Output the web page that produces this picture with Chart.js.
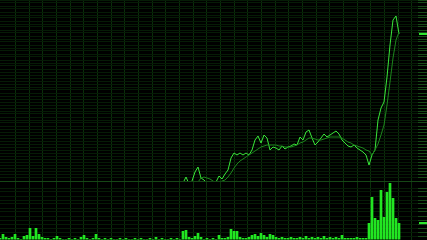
<!DOCTYPE html>
<html>
<head>
<meta charset="utf-8">
<script src="https://cdn.jsdelivr.net/npm/chart.js@4.4.0/dist/chart.umd.min.js"></script>
<style>
html,body{margin:0;padding:0;background:#000;overflow:hidden;}
#wrap{position:relative;width:427px;height:240px;background:#000;}
#main{position:absolute;left:0;top:0;}
#vol{position:absolute;left:0;top:181px;}
</style>
</head>
<body>
<div id="wrap">
<canvas id="main" width="427" height="181"></canvas>
<canvas id="vol" width="427" height="59"></canvas>
</div>
<script>
// ---- data ----
const categories = Array.from({length: 140}, (_, i) => i);

const priceStart = 61;
const priceValues = [-3,3,-4,-1,8,13,2,0,-3,-4,-4,-2,4,1,6,10,22,27,25,27,25,27,25,30,40,44,37,45,42,30,33,32,30,34,31,33,34,36,35,43,40,48,50,42,35,38,42,46,43,45,47,49,46,40,37,34,33,35,32,30,28,25,15,25,30,60,72,78,103,135,160,164,146];

const maStart = 66;
const maValues = [-2,2,3,2,1,-1,-3,-3,-1,0,3,7,12,16,19,21,23,25,27,29,31,33,34,35,35,35,35,34,34,33,33,33,34,35,37,38,40,42,42,41,40,40,41,42,43,43,43,43,42,40,38,37,35,34,33,32,30,29,25,30,36,45,55,75,98,122,140,148];

const volumeValues = [2,6,3,2,3,6,2,1,4,5,12,4,12,6,3,2,2,1,2,4,2,1,1,2,1,2,1,3,5,2,1,2,6,2,1,2,1,2,1,1,2,1,2,1,1,2,1,2,1,1,2,1,3,1,2,1,1,2,1,2,1,9,10,3,2,4,7,3,1,2,1,2,1,5,2,2,3,11,9,9,3,2,2,3,5,6,4,7,5,3,6,5,3,2,3,2,2,3,2,2,3,2,4,2,3,2,3,2,4,2,3,2,3,2,5,2,2,2,2,3,2,2,2,17,43,22,20,50,23,48,57,42,22,17];

const priceTicks = {min: -1, max: 180, step: 3};
const volumeTicks = {min: 0, max: 59, step: 4};

// ---- helpers ----
function spread(start, values) {
  return categories.map((_, i) => (i >= start && i - start < values.length) ? values[i - start] : null);
}
const priceData = spread(priceStart, priceValues);
const maData = spread(maStart, maValues);
const volData = spread(0, volumeValues);

const X_MAX = 418 / 3;
function vGridTicks(scale) {
  const t = [];
  for (let k = 0; k < 30; k++) {
    const v = (15.66 + 13.66 * k) / 3;
    if (v < X_MAX) t.push({value: v});
  }
  scale.ticks = t;
}

const HGRID = '#061c06';
const VGRID = '#0a2f0a';
const TICKC = '#174a17';

function lastValue(arr) {
  for (let i = arr.length - 1; i >= 0; i--) if (arr[i] != null) return arr[i];
  return null;
}

const markerPlugin = {
  id: 'marker',
  afterDraw(chart, args, opts) {
    const y = chart.scales.y.getPixelForValue(opts.value);
    const ctx = chart.ctx;
    ctx.save();
    ctx.fillStyle = '#2ee62e';
    ctx.fillRect(chart.chartArea.right + 1, Math.round(y) - 1, 8, 2);
    ctx.restore();
  }
};

function xScale() {
  return {
    type: 'linear', min: 0, max: X_MAX, offset: false,
    afterBuildTicks: vGridTicks,
    ticks: {display: false},
    border: {display: false},
    grid: {color: VGRID, drawTicks: false, offset: false, lineWidth: 1}
  };
}

new Chart(document.getElementById('main'), {
  type: 'line',
  data: {
    labels: categories,
    datasets: [
      {data: maData, borderColor: '#1c851c', borderWidth: 1, pointRadius: 0, tension: 0, spanGaps: false},
      {data: priceData, borderColor: '#39e639', borderWidth: 1, pointRadius: 0, tension: 0, spanGaps: false}
    ]
  },
  options: {
    responsive: false, animation: false, devicePixelRatio: 1,
    layout: {padding: 0},
    plugins: {legend: {display: false}, tooltip: {enabled: false}, marker: {value: lastValue(priceData)}},
    scales: {
      x: xScale(),
      y: {
        position: 'right', min: priceTicks.min, max: priceTicks.max,
        ticks: {display: false, stepSize: priceTicks.step, maxTicksLimit: 1000},
        border: {display: false},
        grid: {color: HGRID, tickColor: TICKC, tickLength: 9, drawTicks: true}
      }
    }
  },
  plugins: [markerPlugin]
});

new Chart(document.getElementById('vol'), {
  type: 'bar',
  data: {
    labels: categories,
    datasets: [
      {data: volData, backgroundColor: '#22e622', borderWidth: 0, barPercentage: 0.9, categoryPercentage: 1}
    ]
  },
  options: {
    responsive: false, animation: false, devicePixelRatio: 1,
    layout: {padding: 0},
    plugins: {legend: {display: false}, tooltip: {enabled: false}, marker: {value: lastValue(volData)}},
    scales: {
      x: xScale(),
      y: {
        position: 'right', min: volumeTicks.min, max: volumeTicks.max,
        ticks: {display: false, stepSize: volumeTicks.step, maxTicksLimit: 1000},
        border: {display: false},
        grid: {
          color: (c) => c.tick && c.tick.value === volumeTicks.max ? '#164616' : HGRID,
          tickColor: TICKC, tickLength: 9, drawTicks: true
        }
      }
    }
  },
  plugins: [markerPlugin]
});
</script>
</body>
</html>
